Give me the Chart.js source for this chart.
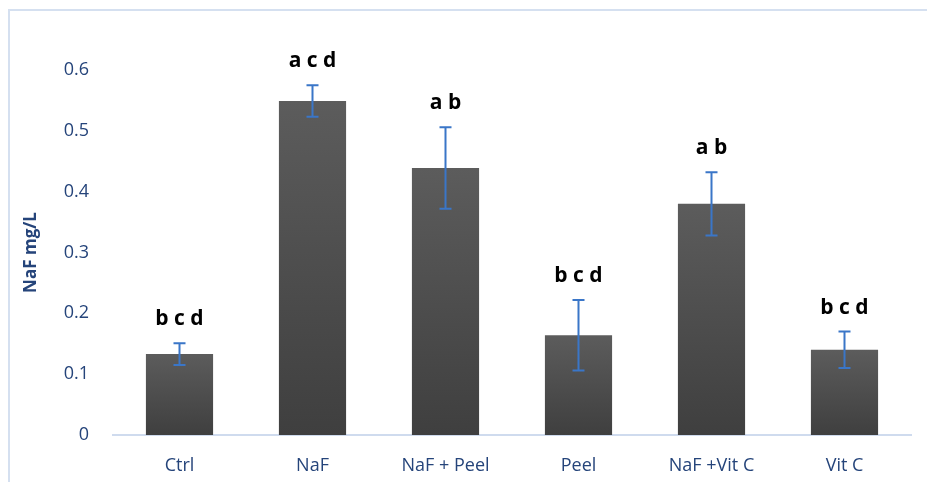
<!DOCTYPE html>
<html>
<head>
<meta charset="utf-8">
<script src="https://cdn.jsdelivr.net/npm/chart.js@4.4.1/dist/chart.umd.min.js"></script>
<style>
  html, body { margin: 0; padding: 0; background: #ffffff; }
  #wrap { width: 927px; height: 482px; position: relative; }
</style>
</head>
<body>
<div id="wrap"><canvas id="c"></canvas></div>
<script>
// Groups, mean NaF concentration (mg/L), error (±) and significance letters
const groups = ['Ctrl', 'NaF', 'NaF + Peel', 'Peel', 'NaF +Vit C', 'Vit C'];
const meanValues = [0.133, 0.549, 0.439, 0.164, 0.380, 0.140];
const errorValues = [0.018, 0.026, 0.067, 0.058, 0.052, 0.030];
const sigLetters = ['b c d', 'a c d', 'a b', 'b c d', 'a b', 'b c d'];
const yTicks = [0, 0.1, 0.2, 0.3, 0.4, 0.5, 0.6];

const navy = '#25447a';
const frameColor = '#d5e0f0';
const errColor = '#3a76c8';
const family = '"Open Sans", Lato, sans-serif';

// Vertical gray gradient for each bar, from its top down to the baseline
function barFill(ctx) {
  const chart = ctx.chart;
  const ys = chart.scales && chart.scales.y;
  if (!ys || !chart.chartArea || ctx.type !== 'data') return '#4d4d4d';
  const top = ys.getPixelForValue(meanValues[ctx.dataIndex]);
  const base = ys.getPixelForValue(0);
  const g = chart.ctx.createLinearGradient(0, top, 0, base);
  g.addColorStop(0, '#5c5c5c');
  g.addColorStop(1, '#3f3f3f');
  return g;
}

// Light frame line along the top and left edges
const framePlugin = {
  id: 'frame',
  beforeDraw(chart) {
    const c = chart.ctx;
    c.save();
    c.strokeStyle = frameColor;
    c.lineWidth = 2;
    c.beginPath();
    c.moveTo(9, chart.height);
    c.lineTo(9, 10);
    c.lineTo(chart.width, 10);
    c.stroke();
    c.restore();
  }
};

// Error bars and significance letters above each bar
const errorPlugin = {
  id: 'errorBars',
  afterDatasetsDraw(chart) {
    const c = chart.ctx;
    const ys = chart.scales.y;
    const meta = chart.getDatasetMeta(0);
    c.save();
    meta.data.forEach((bar, i) => {
      const x = bar.x;
      const hi = ys.getPixelForValue(meanValues[i] + errorValues[i]);
      const lo = ys.getPixelForValue(meanValues[i] - errorValues[i]);
      c.strokeStyle = errColor;
      c.lineWidth = 2;
      c.beginPath();
      c.moveTo(x, hi); c.lineTo(x, lo);
      c.moveTo(x - 6, hi); c.lineTo(x + 6, hi);
      c.moveTo(x - 6, lo); c.lineTo(x + 6, lo);
      c.stroke();

      c.fillStyle = '#000000';
      c.font = 'bold 21px ' + family;
      c.textAlign = 'center';
      c.textBaseline = 'middle';
      c.fillText(sigLetters[i], x, hi - 24);
    });
    c.restore();
  }
};

new Chart(document.getElementById('c'), {
  type: 'bar',
  data: {
    labels: groups,
    datasets: [{
      data: meanValues,
      backgroundColor: barFill,
      borderWidth: 0,
      categoryPercentage: 1,
      barPercentage: 0.505
    }]
  },
  options: {
    responsive: true,
    maintainAspectRatio: false,
    animation: false,
    layout: { padding: { left: 0, right: 16, top: 70, bottom: 0 } },
    plugins: { legend: { display: false }, tooltip: { enabled: false } },
    scales: {
      x: {
        grid: { display: false, drawTicks: false },
        border: { display: true, color: '#cfdbee', width: 2 },
        ticks: {
          color: navy,
          font: { family: family, size: 18 },
          padding: 20,
          maxRotation: 0
        },
        afterFit(scale) { scale.height = 47; }
      },
      y: {
        min: 0,
        max: 0.6,
        grid: { display: false, drawTicks: false },
        border: { display: false },
        afterBuildTicks(scale) { scale.ticks = yTicks.map(v => ({ value: v })); },
        ticks: {
          color: navy,
          font: { family: family, size: 18 },
          padding: 24,
          callback: v => String(v)
        },
        title: {
          display: true,
          text: 'NaF mg/L',
          color: navy,
          font: { family: family, size: 17, weight: 'bold' },
          padding: { top: 21, bottom: 0 }
        },
        afterFit(scale) { scale.width = 113; }
      }
    }
  },
  plugins: [framePlugin, errorPlugin]
});
</script>
</body>
</html>
